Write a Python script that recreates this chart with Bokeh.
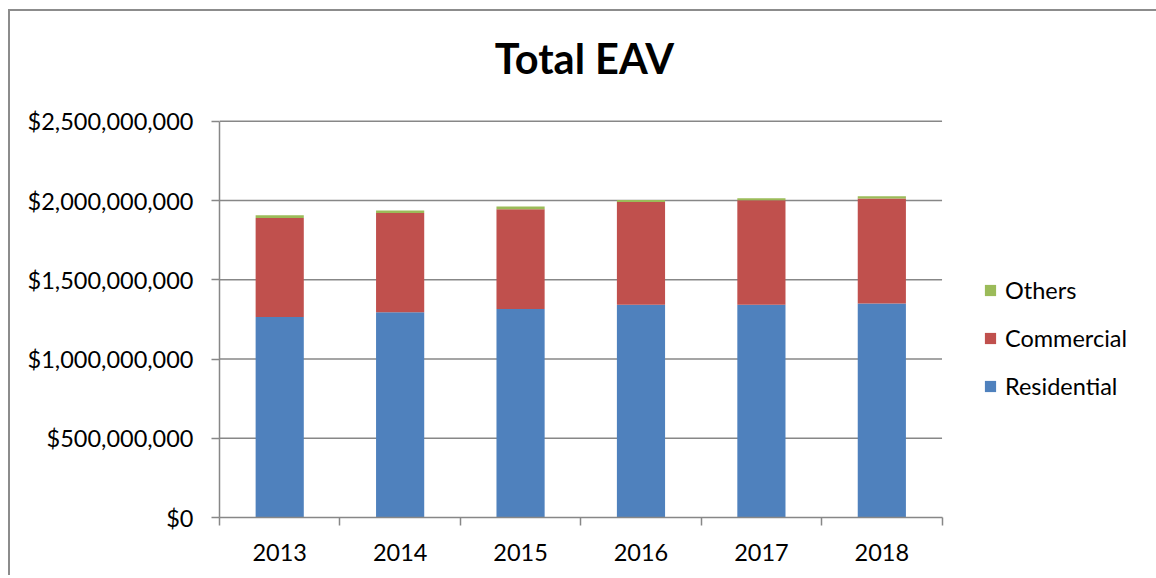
from bokeh.plotting import figure
from bokeh.models import FixedTicker, NumeralTickFormatter, Range1d, Legend, LegendItem, ColumnDataSource, Label
from bokeh.embed import file_html
from bokeh.resources import INLINE

years = ["2013", "2014", "2015", "2016", "2017", "2018"]
residential = [1266e6, 1295e6, 1316e6, 1342e6, 1342e6, 1350e6]
commercial = [624e6, 626e6, 629e6, 649e6, 660e6, 663e6]
others = [17e6, 17e6, 17e6, 13e6, 13e6, 14e6]
series = ["Residential", "Commercial", "Others"]
colors = ["#4F81BD", "#C0504D", "#9BBB59"]
y_ticks = [0, 500e6, 1000e6, 1500e6, 2000e6, 2500e6]
title_text = "Total EAV"

n = len(years)
xpos = [i + 0.5 for i in range(n)]
src = ColumnDataSource(dict(x=xpos, Residential=residential, Commercial=commercial, Others=others))

FONT = "Lato"
GRID = "#878787"

# The frame spans the title and legend areas too; the value axis occupies 394.6 px
# of a 504 px tall frame, the category axis the first 721 px of a 935 px wide frame.
x_end = n * 935 / 721
y_end = y_ticks[-1] * 504 / 394.6

p = figure(width=1148, height=566, output_backend="svg", toolbar_location=None,
           x_range=Range1d(0, x_end), y_range=Range1d(0, y_end),
           min_border_left=209, min_border_right=2, min_border_top=0, min_border_bottom=60)
p.styles = {"border-top": "2px solid #8c8c8c", "border-left": "2px solid #8c8c8c",
            "margin-left": "8px", "margin-top": "9px"}

# horizontal gridlines limited to the category area
p.segment(x0=0, x1=n, y0=y_ticks[1:], y1=y_ticks[1:], line_color=GRID, line_width=1.5)

renderers = p.vbar_stack(series, x="x", width=0.4, color=colors, source=src, line_color=None)

p.add_layout(Label(x=365, y=460, x_units="screen", y_units="screen", text=title_text,
                   text_align="center", text_baseline="alphabetic",
                   text_font=FONT, text_font_size="41.5px", text_font_style="bold",
                   text_color="black"))

p.outline_line_color = None
p.xgrid.grid_line_color = None
p.ygrid.grid_line_color = None

ya = p.yaxis[0]
ya.bounds = (0, y_ticks[-1])
ya.ticker = FixedTicker(ticks=y_ticks)
ya.formatter = NumeralTickFormatter(format="$0,0")
ya.axis_line_color = GRID
ya.axis_line_width = 1.5
ya.major_tick_line_color = GRID
ya.major_tick_line_width = 1.5
ya.major_tick_in = 0
ya.major_tick_out = 8
ya.minor_tick_line_color = None
ya.major_label_text_font = FONT
ya.major_label_text_font_size = "23.5px"
ya.major_label_text_color = "black"
ya.major_label_standoff = 18

xa = p.xaxis[0]
xa.bounds = (0, n)
xa.ticker = FixedTicker(ticks=xpos, minor_ticks=list(range(n + 1)))
xa.major_label_overrides = {x: y for x, y in zip(xpos, years)}
xa.axis_line_color = GRID
xa.axis_line_width = 1.5
xa.major_tick_line_color = None
xa.minor_tick_line_color = GRID
xa.minor_tick_line_width = 1.5
xa.minor_tick_in = 0
xa.minor_tick_out = 8
xa.major_label_text_font = FONT
xa.major_label_text_font_size = "23.5px"
xa.major_label_text_color = "black"
xa.major_label_standoff = 18

items = [LegendItem(label=s, renderers=[r]) for s, r in zip(series, renderers)][::-1]
legend = Legend(items=items, location=(764, 117), padding=0, margin=0,
                border_line_color=None, background_fill_alpha=0,
                glyph_width=14, glyph_height=14, label_height=26, spacing=20,
                label_standoff=8, label_text_font=FONT, label_text_font_size="23.5px",
                label_text_color="black")
p.add_layout(legend, "center")

open("out.html", "w").write(file_html(p, INLINE))
